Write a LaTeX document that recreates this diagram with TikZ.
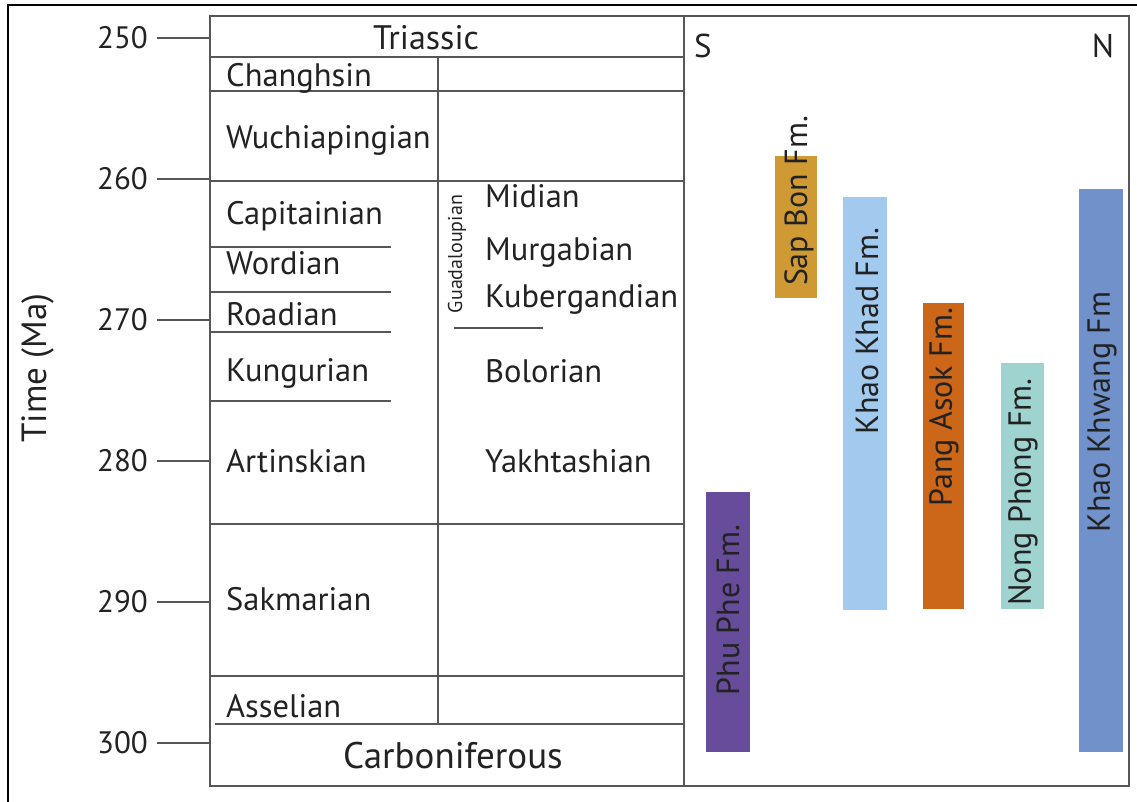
\documentclass[tikz,border=0pt]{standalone}
\usepackage{fontspec}
\setmainfont{PT Sans}
\usepackage{xcolor}
\usetikzlibrary{positioning}

\definecolor{gridgray}{HTML}{575757}
\definecolor{inkgray}{HTML}{222222}
\definecolor{phupheC}{HTML}{664C9A}
\definecolor{sapbonC}{HTML}{CF9A33}
\definecolor{khadC}{HTML}{A2C9EE}
\definecolor{pangC}{HTML}{CC6618}
\definecolor{nongC}{HTML}{9FD3CF}
\definecolor{khwangC}{HTML}{7191CB}

\begin{document}
\begin{tikzpicture}[x=1pt, y=-1pt,
  grid/.style={draw=gridgray, line width=1.6pt},
  stage/.style={anchor=base west, inner sep=0pt, text=inkgray, font=\fontsize{32.5}{34}\selectfont},
  period/.style={anchor=base, inner sep=0pt, text=inkgray, font=\fontsize{34}{36}\selectfont},
  fmlabel/.style={rotate=90, inner sep=0pt, text=inkgray, font=\fontsize{32}{34}\selectfont},
  ticklabel/.style={anchor=east, inner sep=0pt, text=inkgray, font=\fontsize{31}{33}\selectfont}
]
\useasboundingbox (0,0) rectangle (1137,802);

% -------------------------
% Outer frame
% -------------------------
\draw[line width=2pt] (8,802) -- (8,5) -- (1137,5);

% -------------------------
% Time axis
% -------------------------
\foreach \t in {250,260,...,300} {
  \pgfmathsetmacro{\ty}{38+(\t-250)*14.1}
  \draw[grid, line width=1.3pt] (157,\ty) -- (210,\ty);
  \node[ticklabel] (tick\t) at (148,\ty) {\t};
}
\node[rotate=90, text=inkgray, font=\fontsize{35}{37}\selectfont] (timeaxis) at (38,368) {Time (Ma)};

% -------------------------
% Chart frame and columns
% -------------------------
\draw[grid] (210,16) rectangle (684,786);
\draw[grid] (684,16) -- (1129,16) -- (1129,786) -- (684,786);
\draw[grid] (438,57) -- (438,724);

% -------------------------
% Stage boundaries
% -------------------------
\draw[grid] (210,57) -- (684,57);
\draw[grid] (210,91) -- (684,91);
\draw[grid] (210,181) -- (684,181);
\draw[grid] (210,247) -- (391,247);
\draw[grid] (210,292) -- (391,292);
\draw[grid] (210,332) -- (391,332);
\draw[grid] (210,401) -- (391,401);
\draw[grid] (454,328) -- (543,328);
\draw[grid] (210,524) -- (684,524);
\draw[grid] (210,676) -- (684,676);
\draw[grid] (215,724) -- (684,724);

% -------------------------
% Period and stage names
% -------------------------
\node[period] (triassic) at (426,50) {Triassic};
\node[period, font=\fontsize{37}{39}\selectfont] (carbon) at (453,768) {Carboniferous};

\node[stage] (changhsin) at (226,87) {Changhsin};
\node[stage] (wuchia) at (226,149) {Wuchiapingian};
\node[stage] (capitan) at (226,225) {Capitainian};
\node[stage] (wordian) at (226,275) {Wordian};
\node[stage] (roadian) at (226,325) {Roadian};
\node[stage] (kungur) at (226,381) {Kungurian};
\node[stage] (artinsk) at (226,472) {Artinskian};
\node[stage] (sakmar) at (226,610) {Sakmarian};
\node[stage] (asselian) at (226,717) {Asselian};

\node[stage] (midian) at (485,208) {Midian};
\node[stage] (murgab) at (485,261) {Murgabian};
\node[stage] (kuberg) at (485,307) {Kubergandian};
\node[stage] (bolor) at (485,382) {Bolorian};
\node[stage] (yakht) at (485,472) {Yakhtashian};
\node[rotate=90, inner sep=0pt, text=inkgray, font=\fontsize{20}{22}\selectfont] (guadal) at (457,254) {Guadaloupian};

% -------------------------
% Section ends
% -------------------------
\node[text=inkgray, font=\fontsize{33}{35}\selectfont] (south) at (703,46) {S};
\node[text=inkgray, font=\fontsize{33}{35}\selectfont] (north) at (1103,46) {N};

% -------------------------
% Formation ranges
% -------------------------
\fill[phupheC] (706,492) rectangle (750,752);
\fill[sapbonC] (775,156) rectangle (817,298);
\fill[khadC] (843,197) rectangle (887,610);
\fill[pangC] (923,303) rectangle (964,609);
\fill[nongC] (1001,363) rectangle (1044,609);
\fill[khwangC] (1079,189) rectangle (1123,752);

\node[fmlabel] (phuphe) at (728,610) {Phu Phe Fm.};
\node[fmlabel] (sapbon) at (799,201) {Sap Bon Fm.};
\node[fmlabel] (khad) at (867,331) {Khao Khad Fm.};
\node[fmlabel] (pang) at (944,407) {Pang Asok Fm.};
\node[fmlabel] (nong) at (1023,492) {Nong Phong Fm.};
\node[fmlabel] (khwang) at (1102,412) {Khao Khwang Fm};

\end{tikzpicture}
\end{document}
